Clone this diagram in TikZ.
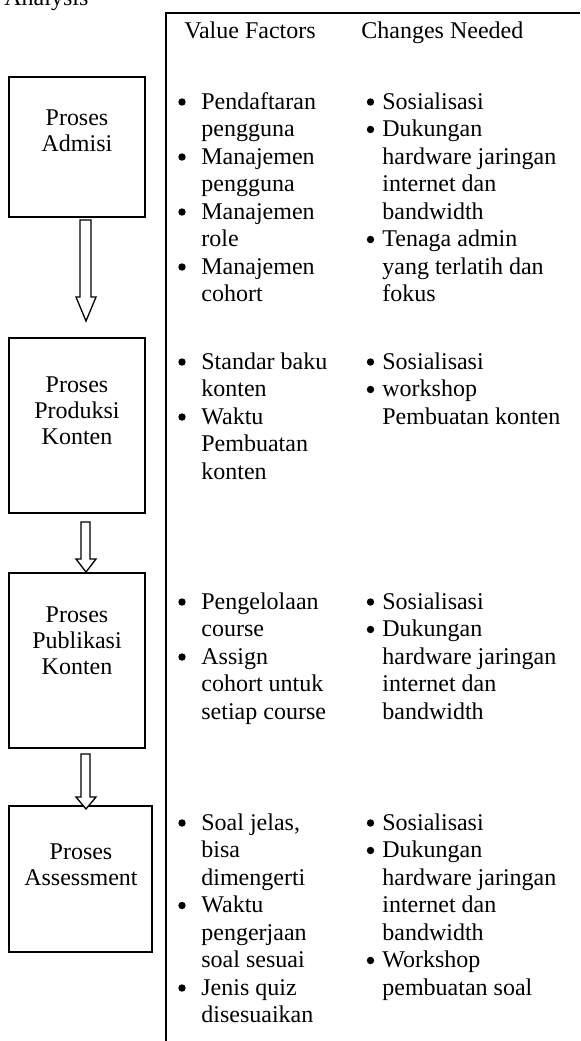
\documentclass[tikz,border=0pt]{standalone}
\usepackage{fontspec}
\setmainfont{Liberation Serif}
\begin{document}
\begin{tikzpicture}[x=0.5pt,y=-0.5pt,
  txt/.style={font=\fontsize{12}{13.75}\selectfont, inner sep=0pt, anchor=base west},
  ctxt/.style={font=\fontsize{12}{12}\selectfont, inner sep=0pt, anchor=base},
  bulletdot/.style={circle, fill=black, inner sep=0pt, minimum size=3.7pt},
  frameline/.style={line width=1pt},
  procbox/.style={draw, line width=1pt},
  blockarrow/.style={draw, line width=0.65pt, fill=white}]
\useasboundingbox (0,0) rectangle (580,1041);
\clip (0,0) rectangle (580,1041);
\newcommand{\mylines}[4]{%
  \foreach \t [count=\i] in {#4} {%
    \node[txt] (#1-\i) at ({#2},{#3+(\i-1)*27.5}) {\t};}}
\newcommand{\mybul}[4]{%
  \foreach \k in {#4} {%
    \node[bulletdot] (#1-\k) at ({#2},{#3-7+(\k-1)*27.5}) {};}}
% top text (cut off)
\node[txt] (analysis) at (4,5) {Analysis};
% frame
\coordinate (ftl) at (166,13);
\coordinate (ftr) at (580,13);
\coordinate (fbl) at (166,1041);
\draw[frameline] (fbl) -- (ftl) -- (ftr);
% headers
\node[txt] (hvf) at (184,38) {Value Factors};
\node[txt] (hcn) at (361,38) {Changes Needed};
% process boxes
\draw[procbox] (9,77) rectangle (145,217);
\draw[procbox] (9,338) rectangle (145,513);
\draw[procbox] (9,573) rectangle (145,748);
\draw[procbox] (9,806) rectangle (152,952);
\node[ctxt] (b1a) at (77,125) {Proses};
\node[ctxt] (b1b) at (77,151) {Admisi};
\node[ctxt] (b2a) at (77,392) {Proses};
\node[ctxt] (b2b) at (77,418) {Produksi};
\node[ctxt] (b2c) at (77,444) {Konten};
\node[ctxt] (b3a) at (77,622) {Proses};
\node[ctxt] (b3b) at (77,648) {Publikasi};
\node[ctxt] (b3c) at (77,674) {Konten};
\node[ctxt] (b4a) at (81,859) {Proses};
\node[ctxt] (b4b) at (81,885) {Assessment};
% block arrows
\draw[blockarrow] (80,220) -- (80,297) -- (76,297) -- (86,321) -- (96,297) -- (91,297) -- (91,220) -- cycle;
\draw[blockarrow] (81,522) -- (81,559) -- (76,559) -- (86,572) -- (96,559) -- (90,559) -- (90,522) -- cycle;
\draw[blockarrow] (81,754) -- (81,797) -- (76,797) -- (86,809) -- (96,797) -- (90,797) -- (90,754) -- cycle;
% section 1
\mylines{s1a}{201}{109}{Pendaftaran,pengguna,Manajemen,pengguna,Manajemen,role,Manajemen,cohort}
\mybul{s1ab}{182}{109}{1,3,5,7}
\mylines{s1b}{382}{109}{Sosialisasi,Dukungan,hardware jaringan,internet dan,bandwidth,Tenaga admin,yang terlatih dan,fokus}
\mybul{s1bb}{370.5}{109}{1,2,6}
% section 2
\mylines{s2a}{201}{369}{Standar baku,konten,Waktu,Pembuatan,konten}
\mybul{s2ab}{182}{369}{1,3}
\mylines{s2b}{382}{369}{Sosialisasi,workshop,Pembuatan konten}
\mybul{s2bb}{370.5}{369}{1,2}
% section 3
\mylines{s3a}{201}{609}{Pengelolaan,course,Assign,cohort untuk,setiap course}
\mybul{s3ab}{182}{609}{1,3}
\mylines{s3b}{382}{609}{Sosialisasi,Dukungan,hardware jaringan,internet dan,bandwidth}
\mybul{s3bb}{370.5}{609}{1,2}
% section 4
\mylines{s4a}{201}{830}{{Soal jelas,},bisa,dimengerti,Waktu,pengerjaan,soal sesuai,Jenis quiz,disesuaikan}
\mybul{s4ab}{182}{830}{1,4,7}
\mylines{s4b}{382}{830}{Sosialisasi,Dukungan,hardware jaringan,internet dan,bandwidth,Workshop,pembuatan soal}
\mybul{s4bb}{370.5}{830}{1,2,6}
\end{tikzpicture}
\end{document}
